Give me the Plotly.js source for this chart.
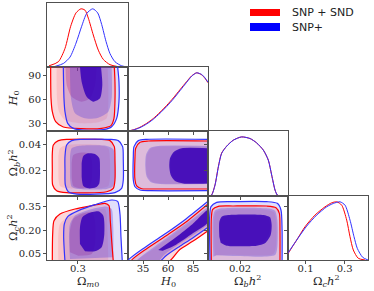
<!DOCTYPE html>
<html><head><meta charset="utf-8">
<script src="https://cdn.plot.ly/plotly-3.0.1.min.js"></script>
<style>html,body{margin:0;padding:0;background:#fff}</style>
</head><body><div id="chart" style="width:374px;height:291px"></div>
<script>
// ---------------- data ----------------
const seriesNames = ["SNP + SND", "SNP+"];
const paramLabels = ["Ω<sub><i>m</i>0</sub>", "<i>H</i><sub>0</sub>", "Ω<sub><i>b</i></sub><i>h</i><sup>2</sup>", "Ω<sub><i>c</i></sub><i>h</i><sup>2</sup>"];
const xRanges = [[0.22, 0.43], [20, 100], [0, 0.05], [0.01, 0.42]];
const yRanges = [null, [20, 100], [0, 0.05], [0.01, 0.42]];
const xTickVals = [[0.3], [35, 60, 85], [0.02], [0.1, 0.3]];
const xTickText = [["0.3"], ["35", "60", "85"], ["0.02"], ["0.1", "0.3"]];
const yTickVals = [null, [30, 60, 90], [0.02, 0.04], [0.05, 0.2, 0.35]];
const yTickText = [null, ["30", "60", "90"], ["0.02", "0.04"], ["0.05", "0.20", "0.35"]];

// 1D marginals [value, normalised density]
const om_red = [[0.2252,0.02],[0.2494,0.09],[0.2667,0.32],[0.2814,0.70],[0.2952,0.93],[0.3081,1.0],[0.3185,0.977],[0.3271,0.84],[0.34,0.55],[0.353,0.29],[0.366,0.13],[0.3833,0.04],[0.405,0.005]];
const om_blue = [[0.2407,0.01],[0.2623,0.06],[0.2796,0.17],[0.2952,0.41],[0.3099,0.70],[0.3229,0.92],[0.3385,1.0],[0.3514,0.93],[0.3618,0.73],[0.373,0.44],[0.3833,0.23],[0.3963,0.09],[0.4137,0.02],[0.4308,0.0]];
const h0_red = [[20,0],[25.3,0.02],[32,0.065],[38.7,0.132],[45.3,0.215],[52,0.322],[58.7,0.44],[65.3,0.568],[72,0.71],[78.7,0.85],[83.7,0.948],[88.7,1.0],[93.7,0.965],[97,0.905],[100,0.83]];
const h0_blue = [[20,0],[25.3,0.017],[32,0.058],[38.7,0.121],[45.3,0.202],[52,0.306],[58.7,0.422],[65.3,0.549],[72,0.693],[78.7,0.838],[83.7,0.942],[88.7,1.0],[93.7,0.971],[97,0.913],[100,0.838]];
const ob_red = [[0.001,0],[0.0023,0.02],[0.0044,0.19],[0.0065,0.50],[0.0085,0.725],[0.0117,0.845],[0.0158,0.945],[0.021,1.0],[0.0263,0.972],[0.0304,0.899],[0.0346,0.776],[0.0377,0.607],[0.0398,0.354],[0.0419,0.101],[0.0433,0.017],[0.045,0]];
const ob_blue = [[0.001,0],[0.0023,0.017],[0.0044,0.185],[0.0065,0.494],[0.0085,0.72],[0.0117,0.843],[0.0158,0.944],[0.021,1.0],[0.0263,0.972],[0.0304,0.899],[0.0346,0.776],[0.0377,0.607],[0.0398,0.354],[0.0419,0.101],[0.0433,0.017],[0.045,0]];
const oc_red = [[0.01,0.10],[0.0115,0.115],[0.0546,0.343],[0.0971,0.571],[0.1484,0.772],[0.1996,0.914],[0.234,0.983],[0.2596,1.0],[0.2852,0.943],[0.3108,0.686],[0.3278,0.40],[0.3447,0.172],[0.3703,0.029],[0.4046,0]];
const oc_blue = [[0.01,0.11],[0.0115,0.125],[0.0546,0.343],[0.1058,0.583],[0.1571,0.772],[0.2083,0.914],[0.2422,0.972],[0.2765,1.0],[0.3021,0.943],[0.3278,0.686],[0.3483,0.40],[0.3652,0.20],[0.3927,0.046],[0.42,0]];

// 2D contours (outer, middle, inner) : Omega_m0 vs H0
const omH0_red_outer = [[0.2295,100],[0.2304,60.8],[0.2338,44.2],[0.2425,31.7],[0.2623,25],[0.3098,22.9],[0.3617,23.3],[0.3859,26.7],[0.3936,35.8],[0.3962,56.7],[0.3962,81.7],[0.3945,100]];
const omH0_red_mid = [[0.2450,100],[0.2459,60.8],[0.2511,44.2],[0.2666,33.75],[0.3098,29.6],[0.3530,30.8],[0.3746,35.8],[0.3790,52.5],[0.3790,77.5],[0.3772,100]];
const omH0_red_inner = [[0.2684,100],[0.2710,77.5],[0.2839,62.9],[0.3098,56.7],[0.3314,60.8],[0.3444,77.5],[0.3487,100]];
const omH0_blue_outer = [[0.2623,100],[0.2640,60.8],[0.2666,44.2],[0.2736,29.6],[0.2882,23.3],[0.3271,20.8],[0.3660,21.7],[0.3876,25.4],[0.4006,35.8],[0.4066,56.7],[0.4066,81.7],[0.4032,100]];
const omH0_blue_mid = [[0.2796,100],[0.2822,60.8],[0.2926,42.1],[0.3185,35.8],[0.3530,36.7],[0.3790,44.2],[0.3876,60.8],[0.3876,100]];
const omH0_blue_inner = [[0.3055,100],[0.3098,81.7],[0.3228,62.9],[0.3401,56.7],[0.3574,60.8],[0.3634,77.5],[0.3600,100]];
// Omega_m0 vs Omega_b h^2
const omOb_red_outer = [[0.2338,0.0328],[0.2364,0.0392],[0.2494,0.0426],[0.2710,0.0436],[0.3574,0.0436],[0.3833,0.0426],[0.3945,0.0380],[0.3962,0.0277],[0.3962,0.0123],[0.3919,0.0059],[0.3746,0.0033],[0.2710,0.0026],[0.2450,0.0041],[0.2347,0.0085],[0.2338,0.0200]];
const omOb_red_mid = [[0.2494,0.0303],[0.2537,0.0367],[0.2710,0.0392],[0.3574,0.0392],[0.3790,0.0367],[0.3833,0.0277],[0.3833,0.0136],[0.3790,0.0077],[0.3574,0.0059],[0.2710,0.0059],[0.2537,0.0077],[0.2494,0.0149]];
const omOb_red_inner = [[0.2839,0.0251],[0.2882,0.0316],[0.3055,0.0333],[0.3271,0.0328],[0.3358,0.0277],[0.3358,0.0123],[0.3297,0.0071],[0.3055,0.0059],[0.2882,0.0077],[0.2839,0.0149]];
const omOb_blue_outer = [[0.2666,0.0303],[0.2710,0.0392],[0.2839,0.0426],[0.3055,0.0436],[0.3833,0.0436],[0.4049,0.0426],[0.4161,0.0380],[0.4178,0.0277],[0.4178,0.0123],[0.4135,0.0059],[0.3962,0.0026],[0.2969,0.0015],[0.2753,0.0033],[0.2675,0.0085],[0.2666,0.0200]];
const omOb_blue_mid = [[0.2796,0.0303],[0.2839,0.0367],[0.3012,0.0385],[0.3746,0.0385],[0.3919,0.0359],[0.3962,0.0277],[0.3962,0.0123],[0.3902,0.0071],[0.3746,0.0054],[0.3012,0.0054],[0.2839,0.0071],[0.2796,0.0149]];
const omOb_blue_inner = [[0.3098,0.0251],[0.3142,0.0308],[0.3271,0.0328],[0.3444,0.0323],[0.3556,0.0290],[0.3574,0.0200],[0.3556,0.0097],[0.3470,0.0067],[0.3271,0.0059],[0.3142,0.0077],[0.3098,0.0149]];
// Omega_m0 vs Omega_c h^2
const omOc_red_outer = [[0.2338,0.0],[0.2347,0.1766],[0.2381,0.2620],[0.2537,0.3047],[0.2926,0.3367],[0.3358,0.3581],[0.3703,0.3730],[0.3807,0.3581],[0.3841,0.2620],[0.3876,0.1339],[0.3919,0.0]];
const omOc_red_mid = [[0.2494,0.0],[0.2494,0.1766],[0.2537,0.2406],[0.2666,0.2727],[0.3012,0.3047],[0.3444,0.3303],[0.3703,0.3367],[0.3746,0.3047],[0.3772,0.1766],[0.3790,0.0]];
const omOc_red_inner = [[0.2796,0.0592],[0.2796,0.1980],[0.2882,0.2727],[0.3098,0.3047],[0.3358,0.3154],[0.3444,0.2620],[0.3444,0.1126],[0.3358,0.0485],[0.3012,0.0378]];
const omOc_blue_outer = [[0.2666,0.0],[0.2632,0.1553],[0.2649,0.2406],[0.2736,0.2876],[0.3012,0.3261],[0.3444,0.3645],[0.3876,0.3944],[0.4032,0.3858],[0.4092,0.3047],[0.4118,0.1553],[0.4152,0.0]];
const omOc_blue_mid = [[0.2796,0.0165],[0.2770,0.1553],[0.2796,0.2406],[0.2926,0.2940],[0.3271,0.3303],[0.3746,0.3517],[0.3876,0.3367],[0.3919,0.2193],[0.3919,0.0272]];
const omOc_blue_inner = [[0.3055,0.1126],[0.3055,0.2193],[0.3116,0.2834],[0.3271,0.3090],[0.3530,0.3218],[0.3660,0.2940],[0.3686,0.1766],[0.3617,0.0912],[0.3444,0.0656],[0.3185,0.0656]];
// H0 vs Omega_b h^2
const h0Ob_red_outer = [[100,0.0423],[40.3,0.0423],[32,0.0413],[27.7,0.0367],[27,0.0303],[27,0.0123],[28.7,0.0077],[33.7,0.0056],[43.7,0.0054],[100,0.0054]];
const h0Ob_red_mid = [[100,0.0380],[51.3,0.0380],[43,0.0365],[38.7,0.0310],[38,0.0226],[39.3,0.0154],[44.3,0.0108],[52.7,0.0097],[100,0.0097]];
const h0Ob_red_inner = [[100,0.0359],[74.7,0.0359],[67,0.0333],[63,0.0285],[62.3,0.0226],[63.7,0.0167],[68,0.0123],[76,0.0105],[100,0.0105]];
const h0Ob_blue_outer = [[100,0.0436],[38.7,0.0436],[30.3,0.0426],[26,0.0380],[25.3,0.0303],[25.3,0.0123],[27,0.0071],[32,0.0046],[42,0.0041],[100,0.0041]];
const h0Ob_blue_mid = [[100,0.0385],[50.3,0.0385],[42,0.0369],[38,0.0316],[37.3,0.0226],[38.7,0.0149],[43.7,0.0103],[52,0.0092],[100,0.0092]];
const h0Ob_blue_inner = [[100,0.0367],[73.7,0.0367],[66,0.0341],[62,0.0290],[61.3,0.0226],[62.7,0.0162],[67,0.0116],[75.3,0.0097],[100,0.0097]];
// H0 vs Omega_c h^2
const h0Oc_red_outer = [[100,0.1980],[84.7,0.1296],[71.3,0.0741],[60.7,0.0],[22.7,0.0],[39.7,0.0869],[59.7,0.1724],[79.7,0.2620],[100,0.3688]];
const h0Oc_red_mid = [[100,0.2264],[84.7,0.1581],[71.3,0.1026],[56.3,0.0342],[49.7,0.0],[28,0.0],[44.7,0.0769],[63,0.1624],[81.3,0.2477],[100,0.3417]];
const h0Oc_red_inner = [[50.3,0.0741],[68,0.1553],[84.7,0.2406],[100,0.3303],[100,0.2513],[84.7,0.1809],[68,0.1083],[54.7,0.0699]];
const h0Oc_blue_outer = [[100,0.2193],[84.7,0.1510],[71.3,0.0955],[58,0.0378],[51.3,0.0],[19.3,0.0],[38,0.0955],[58,0.1809],[78,0.2727],[100,0.3858]];
const h0Oc_blue_mid = [[100,0.2364],[84.7,0.1681],[71.3,0.1126],[56.3,0.0442],[49.7,0.0],[28,0.0],[44.7,0.0869],[63,0.1724],[81.3,0.2577],[100,0.3517]];
const h0Oc_blue_inner = [[50.3,0.0741],[68,0.1553],[84.7,0.2406],[100,0.3303],[100,0.2513],[84.7,0.1809],[68,0.1083],[54.7,0.0699]];
// Omega_b h^2 vs Omega_c h^2
const obOc_red_outer = [[0.00208,0.0],[0.00208,0.2769],[0.00292,0.3346],[0.00646,0.3538],[0.01583,0.3559],[0.03667,0.3559],[0.0425,0.3452],[0.0446,0.3089],[0.045,0.2022],[0.045,0.0]];
const obOc_red_mid = [[0.00417,0.0399],[0.00375,0.2620],[0.005,0.3175],[0.00917,0.3303],[0.03667,0.3303],[0.04125,0.3154],[0.0425,0.2620],[0.0425,0.0997],[0.04083,0.0485],[0.01583,0.0442]];
const obOc_red_inner = [[0.0075,0.1595],[0.0075,0.2513],[0.00917,0.2833],[0.01333,0.2919],[0.03354,0.2919],[0.03771,0.2769],[0.03875,0.2342],[0.03812,0.1766],[0.03458,0.1253],[0.02937,0.1083],[0.01208,0.1083],[0.00833,0.1253]];
const obOc_blue_outer = [[0.00125,0.0],[0.00104,0.2876],[0.00187,0.3517],[0.00542,0.3794],[0.01583,0.3837],[0.03667,0.3837],[0.0433,0.3730],[0.0456,0.3303],[0.0463,0.2022],[0.0463,0.0]];
const obOc_blue_mid = [[0.00333,0.0314],[0.00292,0.2662],[0.00437,0.3260],[0.00854,0.3410],[0.03667,0.3410],[0.04187,0.3260],[0.04333,0.2662],[0.04333,0.0955],[0.04187,0.0421],[0.01583,0.0357],[0.00542,0.0399]];
const obOc_blue_inner = [[0.00708,0.1595],[0.00708,0.2556],[0.00854,0.2876],[0.01271,0.2983],[0.03458,0.2983],[0.03875,0.2833],[0.03979,0.2342],[0.03917,0.1702],[0.03562,0.1168],[0.03042,0.1019],[0.01167,0.1019],[0.00792,0.1211]];

// ---------------- styles ----------------
const W = 374, H = 291;
const colPx = [[47,128],[128,208],[208,288],[288,368]];
const rowPx = [[3,67],[67,131],[131,196],[196,260]];
const titleX = [87.5, 168, 247, 326];
const redFill = ['rgba(240,40,60,0.19)', 'rgba(235,40,60,0.12)', 'rgba(200,30,100,0.30)'];
const blueFill = ['rgba(80,60,225,0.17)', 'rgba(80,60,225,0.32)', 'rgba(55,0,185,0.85)'];
const redLine = 'rgb(255,0,0)', blueLine = 'rgb(50,50,255)';
const frame = '#505050';

function pid(r, c) { let n = 0; for (let i = 0; i < r; i++) n += i + 1; return n + c + 1; }
function sfx(n) { return n === 1 ? '' : String(n); }

const traces = [];
function fillTrace(pts, n, color) {
  traces.push({type:'scatter', mode:'lines', x:pts.map(p=>p[0]), y:pts.map(p=>p[1]),
    xaxis:'x'+sfx(n), yaxis:'y'+sfx(n), fill:'toself', fillcolor:color,
    line:{width:0, shape:'spline', smoothing:0.7}, hoverinfo:'skip', showlegend:false});
}
function lineTrace(pts, n, color, closed, w) {
  const q = closed ? pts.concat([pts[0]]) : pts;
  traces.push({type:'scatter', mode:'lines', x:q.map(p=>p[0]), y:q.map(p=>p[1]),
    xaxis:'x'+sfx(n), yaxis:'y'+sfx(n), line:{color:color, width:w||1.2, shape:'spline', smoothing:0.7},
    hoverinfo:'skip', showlegend:false});
}

const panels2d = [
  {r:1, c:0, red:[omH0_red_outer, omH0_red_mid, omH0_red_inner], blue:[omH0_blue_outer, omH0_blue_mid, omH0_blue_inner], closed:false},
  {r:2, c:0, red:[omOb_red_outer, omOb_red_mid, omOb_red_inner], blue:[omOb_blue_outer, omOb_blue_mid, omOb_blue_inner], closed:true},
  {r:2, c:1, red:[h0Ob_red_outer, h0Ob_red_mid, h0Ob_red_inner], blue:[h0Ob_blue_outer, h0Ob_blue_mid, h0Ob_blue_inner], closed:false},
  {r:3, c:0, red:[omOc_red_outer, omOc_red_mid, omOc_red_inner], blue:[omOc_blue_outer, omOc_blue_mid, omOc_blue_inner], closed:false},
  {r:3, c:1, red:[h0Oc_red_outer, h0Oc_red_mid, h0Oc_red_inner], blue:[h0Oc_blue_outer, h0Oc_blue_mid, h0Oc_blue_inner], closed:false},
  {r:3, c:2, red:[obOc_red_outer, obOc_red_mid, obOc_red_inner], blue:[obOc_blue_outer, obOc_blue_mid, obOc_blue_inner], closed:false}
];
panels2d.forEach(p => { const n = pid(p.r, p.c); p.red.forEach((s, i) => fillTrace(s, n, redFill[i])); });
panels2d.forEach(p => { const n = pid(p.r, p.c); p.blue.forEach((s, i) => fillTrace(s, n, blueFill[i])); });
panels2d.forEach(p => { const n = pid(p.r, p.c); lineTrace(p.red[0], n, redLine, p.closed); lineTrace(p.blue[0], n, blueLine, p.closed); });

const diag = [[om_red, om_blue], [h0_red, h0_blue], [ob_red, ob_blue], [oc_red, oc_blue]];
diag.forEach((d, i) => { const n = pid(i, i); lineTrace(d[0], n, redLine, false, 1.0); lineTrace(d[1], n, blueLine, false, 1.0); });

// ---------------- layout ----------------
const layout = {width:W, height:H, margin:{l:0,r:0,t:0,b:0}, paper_bgcolor:'#fff', plot_bgcolor:'#fff',
  showlegend:false, shapes:[], annotations:[]};
const tickFont = {family:'DejaVu Serif', size:10, color:'#262626'};
const base = {showline:true, mirror:true, linecolor:frame, linewidth:1, ticks:'outside', ticklen:3, tickcolor:frame,
  tickwidth:1, showgrid:false, zeroline:false, tickfont:tickFont, fixedrange:true, layer:'above traces'};
for (let r = 0; r < 4; r++) for (let c = 0; c <= r; c++) {
  const n = pid(r, c);
  const xd = [colPx[c][0]/W, colPx[c][1]/W];
  const yd = [1 - rowPx[r][1]/H, 1 - rowPx[r][0]/H];
  layout['xaxis'+sfx(n)] = Object.assign({}, base, {domain:xd, anchor:'y'+sfx(n), range:xRanges[c],
    tickmode:'array', tickvals:xTickVals[c], ticktext:xTickText[c], showticklabels:r===3, ticklabelstandoff:-4});
  let ya;
  if (r === c) {
    const tv = r === 0 ? [] : yTickVals[r].map(v => (v - yRanges[r][0])/(yRanges[r][1]-yRanges[r][0])*1.1);
    ya = {range:[0,1.1], tickmode:'array', tickvals:tv, showticklabels:false};
  } else {
    ya = {range:yRanges[r], tickmode:'array', tickvals:yTickVals[r], ticktext:yTickText[r], showticklabels:c===0};
  }
  layout['yaxis'+sfx(n)] = Object.assign({}, base, ya, {domain:yd, anchor:'x'+sfx(n)});
}
const titleFont = {family:'DejaVu Serif', size:11.5, color:'#262626'};
for (let c = 0; c < 4; c++) {
  layout.annotations.push({xref:'paper', yref:'paper', x:titleX[c]/W, y:0,
    text:paramLabels[c], showarrow:false, font:titleFont, xanchor:'center', yanchor:'bottom'});
}
for (let r = 1; r < 4; r++) {
  layout.annotations.push({xref:'paper', yref:'paper', x:3/W, y:1-(rowPx[r][0]+rowPx[r][1])/2/H,
    text:paramLabels[r], showarrow:false, font:titleFont, textangle:-90, xanchor:'left', yanchor:'middle'});
}
// legend
const legColors = ['rgb(255,0,0)', 'rgb(0,0,255)'];
const legY = [[9,16],[23,31]];
seriesNames.forEach((s, i) => {
  layout.shapes.push({type:'rect', xref:'paper', yref:'paper', x0:250/W, x1:280/W, y0:1-legY[i][1]/H, y1:1-legY[i][0]/H,
    fillcolor:legColors[i], line:{width:0}});
  layout.annotations.push({xref:'paper', yref:'paper', x:290/W, y:1-(legY[i][0]+legY[i][1])/2/H, text:s, showarrow:false,
    xanchor:'left', yanchor:'middle', font:{family:'DejaVu Sans', size:11, color:'#222'}});
});

Plotly.newPlot('chart', traces, layout, {staticPlot:true, displayModeBar:false});
</script></body></html>
